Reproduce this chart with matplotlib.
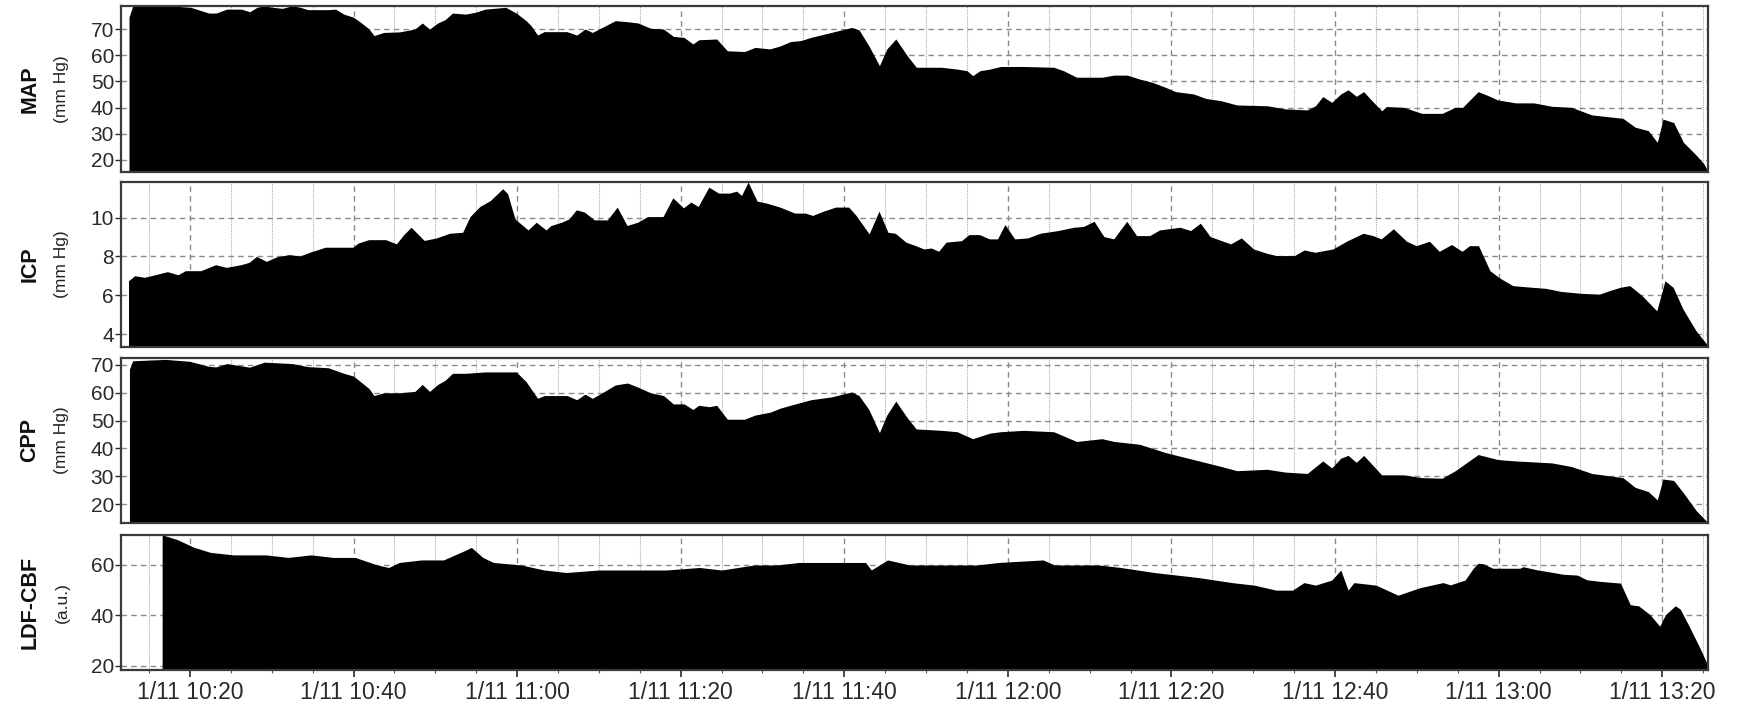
import numpy as np
import pandas as pd
import matplotlib
matplotlib.use('Agg')
import matplotlib.pyplot as plt
import matplotlib.dates as mdates
from matplotlib.ticker import FuncFormatter

plt.rcParams['font.family'] = ['Liberation Sans', 'DejaVu Sans']

# minutes after 10:00 on 1/11
map_t = [12.55, 12.98, 17.0, 20.1, 21.4, 22.3, 23.2, 24.5, 26.3, 27.3, 28.2, 29.1, 30.1, 31.3,
         32.5, 33.5, 34.4, 36.9, 37.8, 38.8, 40.0, 40.9, 41.9, 42.5, 43.7, 45.6, 47.5, 48.4,
         49.3, 50.3, 51.2, 52.1, 53.7, 54.9, 56.1, 58.6, 59.9, 61.1, 61.7, 62.5, 63.3, 66.1,
         67.3, 68.3, 69.2, 70.4, 72.0, 73.5, 74.8, 76.3, 77.9, 79.1, 80.4, 81.5, 82.2, 84.4,
         85.7, 87.8, 89.1, 90.9, 92.2, 93.4, 94.7, 95.9, 98.4, 100.9, 101.8, 103.0, 104.3,
         105.2, 106.3, 107.7, 108.8, 109.4, 111.9, 113.8, 115.0, 115.7, 116.6, 117.8, 119.1,
         121.9, 125.6, 126.8, 128.4, 131.5, 133.0, 134.6, 136.1, 137.7, 139.3, 140.5, 142.7,
         144.2, 146.1, 148.0, 151.7, 153.9, 156.6, 157.6, 158.5, 159.6, 160.7, 161.6, 162.6,
         163.5, 164.4, 165.7, 166.3, 168.4, 170.6, 173.1, 174.7, 175.6, 177.5, 178.7, 179.9,
         182.1, 184.3, 186.5, 188.9, 191.4, 195.2, 196.7, 198.3, 199.4, 200.1, 201.4, 202.6,
         204.2, 205.1, 205.6]
map_v = [74.5, 78.6, 79.0, 78.3, 77.0, 76.1, 76.1, 77.6, 77.6, 76.6, 78.3, 78.9, 78.3, 77.9,
         78.9, 78.3, 77.4, 77.4, 77.6, 75.7, 74.5, 72.5, 70.0, 67.5, 68.7, 68.9, 70.0, 72.3,
         70.0, 72.3, 73.6, 76.1, 75.7, 76.4, 77.6, 78.3, 76.1, 73.2, 71.3, 67.7, 69.0, 69.0,
         67.7, 70.0, 68.7, 70.6, 73.2, 72.8, 72.3, 70.3, 70.0, 67.2, 66.8, 64.3, 65.9, 66.2,
         61.7, 61.4, 63.0, 62.4, 63.6, 65.2, 65.6, 66.8, 68.7, 70.6, 69.7, 63.6, 56.0, 62.4,
         66.2, 59.8, 55.4, 55.4, 55.4, 54.7, 54.1, 52.2, 54.1, 54.7, 55.7, 55.7, 55.4, 54.1,
         51.6, 51.6, 52.4, 52.4, 50.9, 49.6, 47.7, 46.1, 45.2, 43.5, 42.6, 41.0, 40.7, 39.5,
         39.1, 40.7, 44.2, 42.0, 45.2, 46.8, 44.3, 46.1, 43.0, 38.8, 40.4, 40.1, 37.8, 37.8,
         40.1, 40.1, 46.1, 44.6, 42.9, 41.8, 41.8, 40.5, 40.1, 37.2, 35.9, 32.5, 31.2, 26.7,
         35.6, 34.3, 26.7, 21.7, 18.5, 15.6]

icp_t = [12.55, 13.3, 14.5, 15.8, 17.3, 18.6, 19.5, 21.4, 23.2, 24.5, 26.3, 27.3, 28.2, 29.4,
         30.7, 32.2, 33.5, 34.7, 36.6, 40.0, 40.6, 41.9, 44.0, 45.3, 46.2, 47.1, 48.7, 50.2,
         51.8, 53.4, 54.3, 55.5, 56.8, 58.3, 58.9, 59.8, 61.4, 62.4, 63.6, 64.2, 65.5, 66.4,
         67.3, 68.3, 69.5, 71.1, 72.3, 73.5, 74.8, 76.0, 77.9, 79.1, 80.4, 81.3, 82.2, 83.5,
         84.7, 86.0, 86.9, 87.5, 88.3, 89.4, 90.6, 92.2, 94.0, 95.3, 96.2, 97.5, 99.0, 100.6,
         101.5, 103.1, 104.3, 105.4, 106.3, 107.6, 108.8, 109.8, 110.7, 111.6, 112.5, 114.4,
         115.3, 116.6, 117.8, 118.8, 119.7, 120.9, 122.5, 124.0, 126.2, 128.1, 129.3, 130.6,
         131.8, 133.0, 134.6, 135.8, 137.4, 138.6, 141.1, 142.4, 143.6, 144.8, 147.3, 148.6,
         150.1, 151.7, 152.9, 155.1, 156.3, 157.6, 159.8, 161.6, 163.5, 164.7, 165.7, 167.2,
         168.8, 170.0, 171.6, 172.8, 174.3, 175.6, 176.5, 177.6, 179.0, 180.2, 181.8, 183.4,
         185.8, 187.7, 190.2, 192.4, 193.6, 194.9, 196.1, 197.6, 199.4, 200.4, 201.4, 202.6,
         204.2, 205.6]
icp_v = [6.72, 6.98, 6.90, 7.03, 7.19, 7.03, 7.24, 7.24, 7.55, 7.41, 7.55, 7.67, 7.98, 7.72,
         7.96, 8.07, 8.00, 8.19, 8.45, 8.45, 8.66, 8.84, 8.84, 8.62, 9.10, 9.48, 8.80, 8.93,
         9.17, 9.22, 10.03, 10.55, 10.86, 11.47, 11.21, 9.91, 9.34, 9.74, 9.34, 9.57, 9.74,
         9.91, 10.38, 10.26, 9.86, 9.86, 10.52, 9.57, 9.74, 10.03, 10.03, 11.00, 10.48, 10.78,
         10.55, 11.55, 11.24, 11.24, 11.34, 11.12, 11.81, 10.83, 10.72, 10.52, 10.21, 10.21,
         10.09, 10.31, 10.52, 10.52, 10.09, 9.14, 10.31, 9.22, 9.17, 8.71, 8.53, 8.36, 8.41,
         8.24, 8.71, 8.79, 9.10, 9.10, 8.88, 8.88, 9.62, 8.88, 8.93, 9.17, 9.31, 9.48, 9.52,
         9.79, 9.00, 8.88, 9.79, 9.05, 9.05, 9.34, 9.48, 9.31, 9.69, 9.00, 8.62, 8.93, 8.36,
         8.14, 8.02, 8.02, 8.31, 8.19, 8.36, 8.79, 9.17, 9.05, 8.88, 9.40, 8.76, 8.53, 8.76,
         8.24, 8.59, 8.24, 8.53, 8.53, 7.24, 6.86, 6.47, 6.41, 6.33, 6.17, 6.07, 6.03, 6.21,
         6.38, 6.47, 5.95, 5.17, 6.72, 6.38, 5.26, 4.14, 3.40]

cpp_t = [12.6, 13.0, 17.0, 20.0, 22.3, 23.2, 24.5, 27.3, 29.1, 32.5, 34.4, 36.9, 38.8, 40.0,
         41.9, 42.5, 43.7, 45.6, 47.5, 48.4, 49.3, 50.3, 51.2, 52.1, 53.7, 56.1, 58.3, 59.9,
         61.1, 62.5, 63.3, 66.1, 67.3, 68.3, 69.2, 70.4, 72.0, 73.5, 74.8, 76.3, 77.9, 79.1,
         80.4, 81.5, 82.2, 83.5, 84.4, 85.7, 87.8, 89.1, 90.9, 92.2, 93.4, 95.9, 98.4, 100.9,
         101.8, 103.0, 104.3, 105.2, 106.3, 107.7, 108.8, 111.9, 113.8, 115.7, 117.8, 119.1,
         121.9, 125.6, 128.4, 131.5, 133.0, 136.1, 139.3, 142.7, 146.1, 148.0, 151.7, 153.9,
         156.6, 158.5, 159.6, 160.7, 161.6, 162.6, 163.5, 165.7, 168.4, 170.6, 173.1, 174.7,
         177.5, 179.9, 182.1, 186.5, 188.9, 191.4, 195.2, 196.7, 198.3, 199.4, 200.1, 201.4,
         202.6, 204.2, 205.6]
cpp_v = [68.5, 71.5, 72.0, 71.3, 69.5, 69.3, 70.5, 69.2, 71.0, 70.5, 69.4, 69.0, 67.0, 66.0,
         61.5, 59.0, 60.0, 60.0, 60.5, 63.0, 60.5, 63.0, 64.5, 67.0, 67.0, 67.5, 67.5, 67.5,
         64.0, 58.0, 59.0, 59.0, 57.5, 59.5, 58.0, 60.0, 62.8, 63.5, 62.0, 60.0, 59.0, 56.0,
         56.0, 54.0, 55.5, 55.0, 55.5, 50.5, 50.5, 52.0, 53.0, 54.5, 55.5, 57.5, 58.5, 60.3,
         59.0, 54.0, 45.7, 52.0, 57.0, 51.0, 47.0, 46.5, 46.0, 43.5, 45.5, 46.0, 46.5, 46.0,
         42.5, 43.5, 42.5, 41.5, 38.5, 36.0, 33.5, 32.0, 32.5, 31.5, 31.0, 35.5, 33.0, 36.5,
         37.5, 35.0, 37.5, 30.5, 30.5, 29.5, 29.3, 32.0, 37.8, 36.0, 35.5, 34.8, 33.5, 31.0,
         29.5, 26.0, 24.5, 21.5, 29.0, 28.5, 24.0, 17.5, 13.3]

ldf_t = [16.6, 18.5, 20.5, 22.5, 25.3, 29.3, 32.0, 34.8, 37.5, 40.2, 42.9, 44.3, 45.6, 48.3,
         51.0, 53.8, 54.4, 55.8, 57.1, 60.5, 63.3, 66.0, 70.0, 74.1, 78.2, 82.3, 85.0, 89.0,
         91.7, 94.5, 99.9, 102.6, 103.3, 105.3, 108.0, 112.1, 116.2, 118.9, 124.3, 125.7,
         131.1, 133.8, 137.9, 140.6, 143.3, 147.4, 150.1, 152.8, 154.8, 156.2, 157.6, 159.6,
         160.7, 161.6, 162.3, 165.0, 167.7, 170.4, 173.2, 174.1, 175.3, 175.9, 176.9, 177.5,
         178.1, 179.3, 182.6, 183.0, 184.8, 186.7, 187.9, 189.6, 190.8, 192.4, 194.9, 196.1,
         197.1, 198.5, 199.7, 200.4, 201.6, 202.2, 203.4, 204.6, 205.6]
ldf_v = [72.0, 70.0, 67.0, 65.0, 64.0, 64.0, 63.0, 64.0, 63.0, 63.0, 60.0, 59.0, 61.0, 62.0,
         62.0, 66.0, 67.0, 63.0, 61.0, 60.0, 58.0, 57.0, 58.0, 58.0, 58.0, 59.0, 58.0, 60.0,
         60.0, 61.0, 61.0, 61.0, 58.0, 62.0, 60.0, 60.0, 60.0, 61.0, 62.0, 60.0, 60.0, 59.0,
         57.0, 56.0, 55.0, 53.0, 52.0, 50.0, 50.0, 53.0, 52.0, 54.0, 58.0, 50.0, 53.0, 52.0,
         48.0, 51.0, 53.0, 52.1, 53.4, 54.0, 58.7, 60.7, 60.5, 58.7, 58.7, 59.3, 58.0, 57.0,
         56.3, 56.0, 54.1, 53.5, 52.8, 44.2, 43.8, 40.3, 35.7, 40.3, 43.8, 42.5, 35.0, 27.1,
         20.0]

panels = ['MAP', 'ICP', 'CPP', 'LDF-CBF']
units = ['(mm Hg)', '(mm Hg)', '(mm Hg)', '(a.u.)']
ylims = [(15.4, 78.8), (3.33, 11.84), (13.2, 72.5), (18.3, 71.9)]
yticks = [[20, 30, 40, 50, 60, 70], [4, 6, 8, 10], [20, 30, 40, 50, 60, 70], [20, 40, 60]]


def to_time(minutes):
    base = pd.Timestamp('2012-01-11 10:00:00')
    return base + pd.to_timedelta(np.asarray(minutes), unit='m')


def fmt_date(x, pos):
    d = mdates.num2date(x)
    return f'{d.month}/{d.day} {d:%H:%M}'


series = [(map_t, map_v), (icp_t, icp_v), (cpp_t, cpp_v), (ldf_t, ldf_v)]
W, H = 1740, 705
boxes = [(6, 172), (182, 347), (358, 523), (535, 670)]

fig = plt.figure(figsize=(W / 100, H / 100), dpi=100)
x0 = 121 / W
x1 = 1708 / W
t_start = to_time([11.57])[0]
t_end = to_time([205.6])[0]

for i, (name, unit) in enumerate(zip(panels, units)):
    top, bot = boxes[i]
    ax = fig.add_axes([x0, 1 - bot / H, x1 - x0, (bot - top) / H])
    t, v = series[i]
    lo, hi = ylims[i]
    ax.fill_between(to_time(t), v, lo - 50, color='black', lw=0, zorder=2)
    ax.set_xlim(t_start, t_end)
    ax.set_ylim(lo, hi)
    ax.set_yticks(yticks[i])
    ax.xaxis.set_major_locator(mdates.MinuteLocator(byminute=[0, 20, 40]))
    ax.xaxis.set_minor_locator(mdates.MinuteLocator(byminute=range(0, 60, 5)))
    ax.xaxis.set_major_formatter(FuncFormatter(fmt_date))
    ax.set_axisbelow(True)
    ax.grid(which='major', axis='both', color='#8a8a8a', ls=(0, (4, 3)), lw=1.0)
    ax.grid(which='minor', axis='x', color='#ababab', ls=(0, (1, 1)), lw=0.8)
    for s in ax.spines.values():
        s.set_color('#3a3a3a')
        s.set_linewidth(1.6)
    ax.tick_params(axis='y', which='major', labelsize=15, length=4, width=1, pad=1,
                   colors='#2a2a2a')
    if i < 3:
        ax.tick_params(axis='x', which='both', length=0, labelbottom=False)
    else:
        ax.tick_params(axis='x', which='major', labelsize=16.5, length=5, width=1.2, pad=3,
                       colors='#2a2a2a')
        ax.tick_params(axis='x', which='minor', length=2, width=0.8, colors='#555555')
    yc = 1 - (top + bot) / 2 / H
    fig.text(30 / W, yc, name, rotation=90, ha='center', va='center', fontsize=15.5,
             fontweight='bold', color='#111111')
    fig.text(62 / W, yc, unit, rotation=90, ha='center', va='center', fontsize=12.5,
             color='#222222')

fig.savefig('out.png', dpi=100, facecolor='white')
